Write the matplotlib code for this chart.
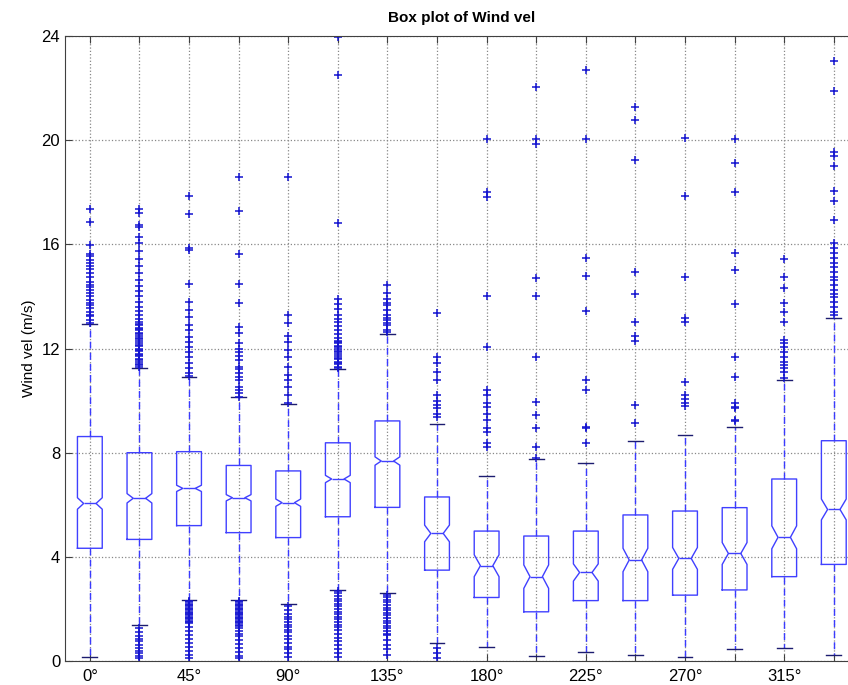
import matplotlib.pyplot as plt

plt.rcParams['font.family'] = ['Liberation Sans', 'DejaVu Sans']

# wind direction bins (deg) and their labels (every other one shown)
directions = [0, 22.5, 45, 67.5, 90, 112.5, 135, 157.5, 180, 202.5, 225, 247.5, 270, 292.5, 315, 337.5]
tick_labels = ['0°', '', '45°', '', '90°', '', '135°', '', '180°', '', '225°', '', '270°', '', '315°', '']

# box statistics (m/s)
q1 = [4.33, 4.67, 5.20, 4.93, 4.74, 5.54, 5.90, 3.49, 2.44, 1.89, 2.32, 2.32, 2.53, 2.73, 3.24, 3.71]
median = [6.05, 6.25, 6.63, 6.27, 6.08, 6.99, 7.68, 4.90, 3.66, 3.24, 3.40, 3.88, 3.94, 4.13, 4.75, 5.82]
q3 = [8.62, 8.00, 8.04, 7.51, 7.30, 8.38, 9.22, 6.30, 4.99, 4.80, 4.99, 5.61, 5.76, 5.89, 6.99, 8.46]
whisk_lo = [0.17, 1.38, 2.34, 2.34, 2.19, 2.73, 2.60, 0.70, 0.55, 0.19, 0.35, 0.23, 0.17, 0.45, 0.49, 0.23]
whisk_hi = [12.93, 11.26, 10.89, 10.12, 9.86, 11.20, 12.54, 9.10, 7.10, 7.74, 7.62, 8.46, 8.67, 9.00, 10.79, 13.19]
notch = [0.22, 0.18, 0.12, 0.12, 0.14, 0.14, 0.16, 0.32, 0.42, 0.45, 0.33, 0.45, 0.42, 0.42, 0.44, 0.40]

# outliers per direction
outliers = [
    [17.35, 16.85, 15.98, 15.63, 15.55, 15.4, 15.27, 15.18, 15.05, 14.89, 14.75, 14.57, 14.45, 14.38,
     14.25, 14.12, 14.0, 13.87, 13.75, 13.68, 13.55, 13.42, 13.3, 13.23, 13.1, 12.97],
    [17.35, 17.2, 16.75, 16.65, 16.3, 16.05, 15.75, 15.45, 15.15, 14.9, 14.65, 14.4, 14.2, 14.0, 13.8,
     13.6, 13.45, 13.3, 13.15, 13.0, 12.9, 12.8, 12.7, 12.6, 12.5, 12.4, 12.3, 12.2, 12.1, 12.0, 11.9,
     11.8, 11.7, 11.6, 11.5, 11.4, 11.3, 12.95, 12.75, 12.55, 12.35, 12.15, 11.95, 11.75, 11.55, 11.35,
     1.25, 1.1, 0.95, 0.85, 0.75, 0.6, 0.5, 0.4, 0.3, 0.2, 0.1],
    [17.87, 17.15, 15.85, 15.8, 14.47, 13.8, 13.48, 13.22, 12.9, 12.7, 12.45, 12.26, 12.07, 11.88,
     11.68, 11.43, 11.24, 11.05, 10.95,
     2.3, 2.25, 2.2, 2.15, 2.1, 2.05, 2.0, 1.95, 1.9, 1.85, 1.8, 1.75, 1.7, 1.65, 1.6, 1.55, 1.5, 1.45,
     1.3, 1.15, 1.0, 0.85, 0.7, 0.55, 0.4, 0.25, 0.1],
    [18.57, 17.28, 15.63, 14.48, 13.74, 12.84, 12.58, 12.2, 11.88, 11.56, 11.3, 11.05, 10.79, 10.53,
     10.28, 10.15, 12.0, 11.7, 11.2, 10.9, 10.4,
     2.3, 2.25, 2.2, 2.15, 2.1, 2.05, 2.0, 1.95, 1.9, 1.85, 1.8, 1.75, 1.7, 1.65, 1.6, 1.55, 1.5, 1.45,
     1.4, 1.35, 1.25, 1.15, 1.05, 0.95, 0.8, 0.65, 0.5, 0.35, 0.2, 0.1],
    [18.6, 13.29, 12.97, 12.5, 12.26, 11.94, 11.68, 11.3, 10.98, 10.79, 10.53, 10.2, 9.9,
     2.1, 1.95, 1.8, 1.7, 1.6, 1.5, 1.4, 1.3, 1.2, 1.1, 0.95, 0.85, 0.7, 0.55, 0.45, 0.3, 0.15],
    [23.98, 22.5, 16.81, 13.9, 13.7, 13.5, 13.3, 13.15, 13.0, 12.85, 12.7, 12.55, 12.4, 12.3, 12.2,
     12.1, 12.0, 11.9, 11.8, 11.7, 11.6, 11.5, 11.4, 11.3, 12.25, 12.05, 11.85, 11.65, 11.45, 11.25,
     2.7, 2.6, 2.5, 2.4, 2.3, 2.2, 2.1, 2.0, 1.9, 1.8, 1.7, 1.6, 1.5, 1.4, 1.3, 1.2,
     1.05, 0.9, 0.75, 0.6, 0.45, 0.3, 0.15],
    [14.44, 14.12, 13.92, 13.74, 13.67, 13.48, 13.28, 13.16, 13.08, 12.97, 12.9, 12.71, 12.64,
     2.55, 2.45, 2.35, 2.25, 2.15, 2.05, 1.95, 1.85, 1.75, 1.65, 1.55, 1.45, 1.35, 1.25, 1.15, 1.05,
     1.0, 0.8, 0.6, 0.45, 0.25],
    [13.35, 11.69, 11.43, 11.11, 10.79, 10.2, 10.0, 9.83, 9.7, 9.5, 9.38,
     0.5, 0.3, 0.12],
    [20.03, 18.02, 17.8, 14.02, 12.07, 10.41, 10.21, 9.89, 9.76, 9.5, 9.24, 8.94, 8.8, 8.36, 8.23],
    [22.03, 20.03, 19.85, 14.72, 14.02, 11.69, 9.96, 9.45, 8.94, 8.23, 7.8],
    [22.7, 20.03, 15.49, 14.77, 13.45, 10.79, 10.41, 9.0, 8.95, 8.38],
    [21.29, 20.78, 19.24, 14.95, 14.09, 13.03, 12.5, 12.3, 9.83, 9.15],
    [20.1, 17.87, 14.76, 13.16, 13.0, 10.73, 10.21, 10.05, 9.9, 9.8],
    [20.03, 19.11, 18.02, 15.68, 15.02, 13.71, 11.69, 10.92, 9.9, 9.75, 9.7, 9.25, 9.2],
    [15.45, 14.74, 14.31, 13.74, 13.42, 13.03, 12.33, 12.2, 12.07, 11.88, 11.69, 11.49, 11.36, 11.24,
     11.1, 10.85],
    [23.05, 21.89, 19.56, 19.4, 19.01, 18.05, 17.65, 16.94, 16.04, 15.85, 15.68, 15.46, 15.27, 15.12,
     14.95, 14.76, 14.63, 14.45, 14.25, 14.1, 13.99, 13.8, 13.61, 13.42, 13.3],
]

stats = []
for i in range(len(directions)):
    stats.append(dict(med=median[i], q1=q1[i], q3=q3[i], whislo=whisk_lo[i], whishi=whisk_hi[i],
                      cilo=median[i] - notch[i], cihi=median[i] + notch[i], fliers=outliers[i]))

positions = list(range(1, len(directions) + 1))

fig = plt.figure(figsize=(8.48, 6.85), dpi=100)
ax = fig.add_axes([0.0767, 0.035, 0.9358, 0.9124])

ax.bxp(stats, positions=positions, widths=0.5, shownotches=True, showfliers=True, capwidths=0.3,
       boxprops=dict(color='#4040ff', linewidth=1.0),
       medianprops=dict(color='#4040ff', linewidth=1.0),
       whiskerprops=dict(color='#3a3aff', linewidth=1.0, linestyle=(0, (5, 3))),
       capprops=dict(color='#1c1c70', linewidth=1.0),
       flierprops=dict(marker='+', markeredgecolor='#1414d0', markersize=6, linestyle='none',
                       markeredgewidth=1.1))

ax.set_xlim(0.5, 16.5)
ax.set_ylim(0, 24)
ax.set_yticks([0, 4, 8, 12, 16, 20, 24])
ax.set_xticks(positions)
ax.set_xticklabels(tick_labels)
ax.tick_params(axis='both', direction='in', length=5, labelsize=12, top=True, right=True,
               color='#404040')
ax.tick_params(axis='x', pad=6)
ax.grid(True, linestyle=':', color='#888888', linewidth=0.9)
ax.set_axisbelow(True)
for s in ax.spines.values():
    s.set_color('#404040')

ax.set_ylabel('Wind vel (m/s)', fontsize=11)
ax.set_title('Box plot of Wind vel', fontsize=11, fontweight='bold', pad=10)

fig.savefig('out.png', dpi=100)
